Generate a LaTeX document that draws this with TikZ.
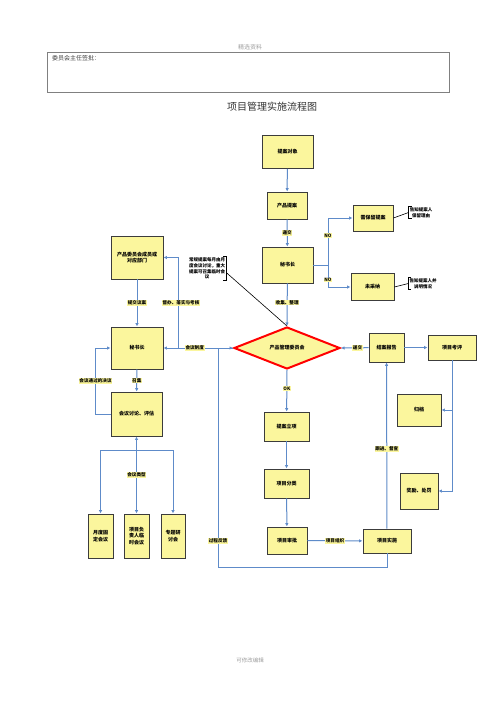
\documentclass[tikz,border=0pt]{standalone}
\usepackage{fontspec}
\setmainfont{Noto Sans CJK SC}
\usetikzlibrary{shapes.geometric,arrows.meta}
\definecolor{boxfill}{HTML}{FBF69D}
\definecolor{boxline}{HTML}{3C3C3C}
\definecolor{flow}{HTML}{5E8BC9}
\definecolor{hl}{HTML}{FBF69D}
\definecolor{paleg}{HTML}{A0A0A0}
\begin{document}
\begin{tikzpicture}[x=1pt,y=-1pt,
 box/.style={draw=boxline,fill=boxfill,line width=0.9pt,align=center,inner sep=0pt,font=\fontsize{5}{6.5}\selectfont\bfseries},
 flowline/.style={draw=flow,line width=1pt},
 arr/.style={flowline,-{Latex[length=3.5pt,width=3.5pt]}},
 lab/.style={fill=hl,inner sep=0.6pt,font=\fontsize{4.6}{5.5}\selectfont\bfseries},
 note/.style={align=center,inner sep=1pt,font=\fontsize{4.5}{5.6}\selectfont\bfseries},
 brk/.style={draw=black,line width=0.6pt},
]
\useasboundingbox[fill=white] (0,0) rectangle (500,707);

% header
\node[text=paleg,font=\fontsize{6}{7}\selectfont] (hdr) at (250,47) {精选资料};
\node[draw=gray,line width=0.8pt,minimum width=402pt,minimum height=40pt,inner sep=0pt] (sign) at (248,72) {};
\node[anchor=north west,inner sep=0pt,text=black!75,font=\fontsize{6}{7}\selectfont] (signt) at (52,55) {委员会主任签批：};
\node[text=black!80,font=\fontsize{10}{12}\selectfont] (title) at (272,107) {项目管理实施流程图};
\node[text=paleg,font=\fontsize{5.5}{7}\selectfont] (ftr) at (250,660) {可修改编辑};

% main column
\node[box,minimum width=51pt,minimum height=33pt] (tadx) at (287.5,152) {提案对象};
\node[box,minimum width=40pt,minimum height=27pt] (cpta) at (287,205.5) {产品提案};
\node[box,minimum width=51pt,minimum height=36pt] (msz) at (287.5,265) {秘书长};
\node[box,minimum width=40pt,minimum height=26pt] (xbl) at (373,218) {需保留提案};
\node[box,minimum width=43pt,minimum height=27pt] (wcn) at (372.5,287) {未采纳};
\node[note] (n1) at (421,212.5) {告知提案人\\保留理由};
\node[note] (n2) at (423,283.5) {告知提案人并\\说明情况};
\node[note] (n3) at (207,268.5) {常规提案每月由月\\度会议讨论，重大\\提案可召集临时会\\议};

\node[diamond,draw=red,line width=2pt,fill=boxfill,minimum width=106pt,minimum height=42pt,inner sep=0pt,font=\fontsize{5}{6.5}\selectfont\bfseries] (dia) at (287,348) {产品管理委员会};

\node[box,minimum width=35pt,minimum height=29pt] (jabg) at (386.5,347.5) {结案报告};
\node[box,minimum width=48pt,minimum height=25pt] (xmkp) at (452,347.5) {项目考评};
\node[box,minimum width=44pt,minimum height=32pt] (gd) at (419,410) {归档};
\node[box,minimum width=38pt,minimum height=36pt] (jl) at (419,491) {奖励、处罚};

\node[box,minimum width=45pt,minimum height=29pt] (tali) at (286.5,426.5) {提案立项};
\node[box,minimum width=45pt,minimum height=29pt] (xmfl) at (286.5,483.5) {项目分类};
\node[box,minimum width=40pt,minimum height=27pt] (xmsp) at (287,540.5) {项目审批};
\node[box,minimum width=48pt,minimum height=24pt] (xmss) at (387,541) {项目实施};

% left column
\node[box,minimum width=52pt,minimum height=43pt] (cw) at (137,257.5) {产品委员会成员或\\对应部门};
\node[box,minimum width=52pt,minimum height=42pt] (msl) at (137,348) {秘书长};
\node[box,minimum width=51pt,minimum height=44pt] (hytl) at (136.5,414) {会议讨论、评估};
\node[box,minimum width=25pt,minimum height=44pt] (yd) at (100.5,536) {月度固\\定会议};
\node[box,minimum width=25pt,minimum height=44pt] (xmf) at (136.5,536) {项目负\\责人临\\时会议};
\node[box,minimum width=24pt,minimum height=44pt] (ztt) at (173,536) {专题研\\讨会};

% brackets of notes
\draw[brk] ([xshift=3pt]n1.north west) -- (n1.north west) -- (n1.south west) -- ([xshift=3pt]n1.south west);
\draw[brk] ([xshift=3pt]n2.north west) -- (n2.north west) -- (n2.south west) -- ([xshift=3pt]n2.south west);
\draw[brk] ([xshift=-3pt]n3.north east) -- (n3.north east) -- (n3.south east) -- ([xshift=-3pt]n3.south east);
\draw[brk] (xbl.east) -- (n1.west);
\draw[brk] (wcn.east) -- (n2.west);
\draw[line width=0.6pt] ([yshift=-4pt]n3.east) -- (dia.north);

% connectors main column
\draw[arr] (tadx) -- (cpta);
\draw[arr] (cpta) -- node[lab]{递交} (msz);
\coordinate (br) at (328,265);
\draw[flowline] (msz.east) -- (br);
\draw[arr] (br) |- node[lab,pos=0.31]{NO} (xbl.west);
\draw[arr] (br) |- node[lab,pos=0.34]{NO} (wcn.west);
\draw[arr] (msz) -- node[lab,pos=0.45]{收集、整理} (dia.north);
\draw[arr] (dia.south) -- node[lab,pos=0.45]{OK} (tali);
\draw[arr] (tali) -- (xmfl);
\draw[arr] (xmfl) -- (xmsp);
\draw[arr] (xmsp) -- node[lab]{项目组织} (xmss);
\draw[arr] (xmss) -- node[lab,pos=0.48]{跟进、督查} (jabg);
\draw[arr] (jabg) -- node[lab,pos=0.4]{递交} (dia.east);
\draw[arr] (jabg) -- (xmkp);
\draw[arr] (xmkp.south) |- (jl.east);
\draw[arr] (xmkp.south |- gd.east) -- (gd.east);
\coordinate (fb) at (218,348);
\draw[arr] (xmss.south) -- ++(0,14) -| node[lab,pos=0.56]{过程反馈} (fb) -- (dia.west);

% connectors left column
\draw[arr] (dia.west) -- node[lab,pos=0.55]{会议制度} (msl.east);
\coordinate (dbj) at (178,348);
\draw[arr] (dbj) |- node[lab,pos=0.25,xshift=3pt]{督办、落实与考核} (cw.east);
\draw[arr] (cw) -- node[lab]{提交议案} (msl);
\draw[arr] (msl) -- node[lab,pos=0.5]{召集} (hytl);
\draw[arr] (hytl.west) -- ++(-15,0) |- node[lab,pos=0.25]{会议通过的决议} (msl.west);
\draw[flowline,{Latex[length=3.5pt,width=3.5pt]}-{Latex[length=3.5pt,width=3.5pt]}] (hytl.south) -- node[lab,pos=0.5]{会议类型} (xmf.north);
\coordinate (hb) at (137,450);
\draw[arr] (hb) -| (yd.north);
\draw[arr] (hb) -| (ztt.north);
\end{tikzpicture}
\end{document}
